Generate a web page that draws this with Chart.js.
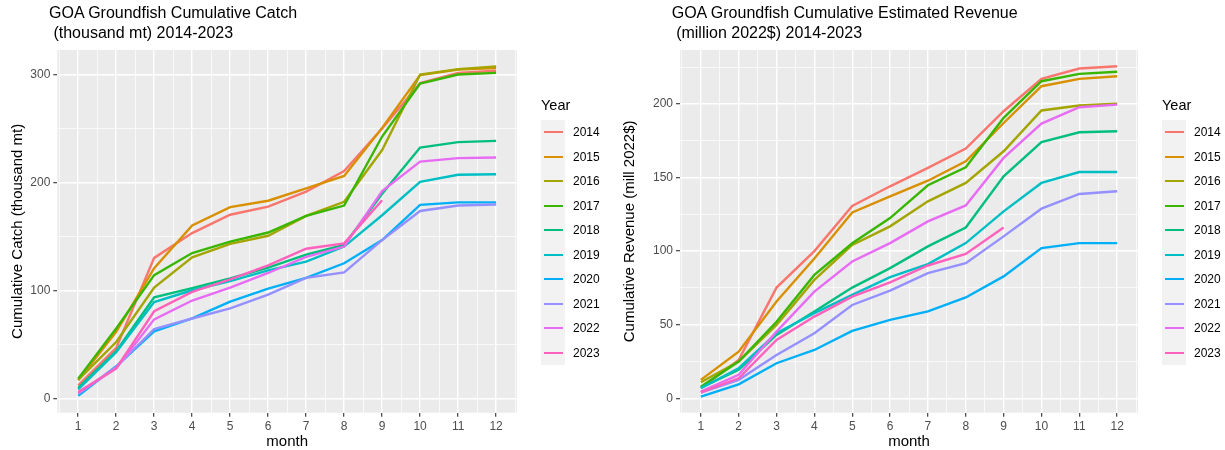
<!DOCTYPE html>
<html>
<head>
<meta charset="utf-8">
<title>GOA Groundfish Cumulative Catch and Revenue</title>
<script src="https://cdn.jsdelivr.net/npm/chart.js@4.4.1/dist/chart.umd.min.js"></script>
<style>
    body { margin: 0; background: #ffffff; font-family: "Liberation Sans", Arial, sans-serif; }
    #wrap { position: relative; width: 1225px; height: 450px; overflow: hidden; }
    #wrap canvas { position: absolute; top: 0; }
    .plot-title { position: absolute; top: 3px; font-size: 16px; line-height: 20px; white-space: pre; color: #000; }
    .legend-title { position: absolute; font-size: 14.5px; line-height: 16px; color: #000; }
    .key-bg { position: absolute; background: #f2f2f2; }
    .key-line { position: absolute; height: 2px; }
    .key-label { position: absolute; font-size: 12px; line-height: 14px; color: #000; }
</style>
</head>
<body>
<div id="wrap">
    <canvas id="catchChart" width="612" height="450"></canvas>
    <canvas id="revenueChart" width="613" height="450"></canvas>
</div>
<script>
// Data
const months = [1, 2, 3, 4, 5, 6, 7, 8, 9, 10, 11, 12];
const years = ['2014', '2015', '2016', '2017', '2018', '2019', '2020', '2021', '2022', '2023'];
const yearColors = ['#F8766D', '#D89000', '#A3A500', '#39B600', '#00BF7D',
                    '#00BFC4', '#00B0F6', '#9590FF', '#E76BF3', '#FF62BC'];

// Cumulative catch (thousand mt)
const catch2014 = [12.4, 47, 130.5, 153.5, 170.5, 178, 192, 211, 250.5, 292.5, 302, 304];
const catch2015 = [17, 62, 121, 160.5, 177.5, 183.5, 195, 206.5, 251, 300, 305, 306.5];
const catch2016 = [17.5, 52.5, 103, 131, 143.5, 151, 169.5, 182.5, 230.5, 300.5, 305.5, 308];
const catch2017 = [18.6, 65, 114.5, 135, 145.5, 154, 169.5, 179, 243, 292, 300.5, 302];
const catch2018 = [10, 44, 94, 102.5, 111.5, 121.5, 133.5, 142.5, 190, 232.8, 237.8, 239];
const catch2019 = [8.5, 43, 89.5, 100.5, 109, 119, 127, 141, 170, 201, 207.5, 208];
const catch2020 = [2.6, 30, 62.5, 74.5, 90, 102, 112, 125.5, 147, 179.6, 182, 182];
const catch2021 = [4.6, 29.5, 64.5, 74.3, 83.7, 96.5, 112, 117, 147, 174, 179, 180];
const catch2022 = [5.3, 28, 73.5, 91, 103, 116.5, 131.5, 141, 192.5, 219.8, 223, 223.5];
const catch2023 = [6.2, 28, 81, 99, 110.5, 123.5, 139, 144, 184];

// Cumulative estimated revenue (million 2022$)
const revenue2014 = [7, 26, 75.2, 100, 130.7, 144, 156.5, 169.6, 195, 217, 224, 225.6];
const revenue2015 = [12.5, 31.7, 65.7, 95, 126.2, 137.2, 147.8, 161, 187, 212, 217, 218.8];
const revenue2016 = [10.9, 25, 49.8, 80.4, 104.2, 116.8, 133.8, 146.3, 167.8, 195.5, 198.9, 200.2];
const revenue2017 = [7.9, 25, 52, 83.8, 105.3, 122.4, 144.7, 156.9, 190.5, 215.4, 220.4, 221.8];
const revenue2018 = [7.2, 19.3, 43, 58.9, 75.2, 88.4, 103.2, 116, 150.8, 174.1, 180.7, 181.4];
const revenue2019 = [6.8, 20.4, 44.2, 57.8, 70.2, 82.3, 91.2, 105.4, 127, 146.3, 153.7, 153.7];
const revenue2020 = [1.1, 9.5, 23.8, 32.8, 45.8, 53.3, 59, 68.5, 82.8, 102, 105.4, 105.4];
const revenue2021 = [3.9, 12.5, 29.4, 44.2, 63.4, 73.2, 85, 91.8, 110, 128.8, 138.8, 140.6];
const revenue2022 = [4.5, 15.9, 45.3, 72.5, 92.9, 105.4, 120.2, 131, 163.3, 186.6, 197.7, 199.5];
const revenue2023 = [4, 13.6, 39.6, 55.5, 69, 78.7, 90.2, 98, 116];

// Axis breaks (major) for each panel
const monthTicks = [1, 2, 3, 4, 5, 6, 7, 8, 9, 10, 11, 12];
const catchTicks = [0, 100, 200, 300];
const revenueTicks = [0, 50, 100, 150, 200];

const catchSeries = [catch2014, catch2015, catch2016, catch2017, catch2018,
                     catch2019, catch2020, catch2021, catch2022, catch2023];
const revenueSeries = [revenue2014, revenue2015, revenue2016, revenue2017, revenue2018,
                       revenue2019, revenue2020, revenue2021, revenue2022, revenue2023];

// Page layout (pixels in the 1225x450 window)
const plots = [
    {
        canvasId: 'catchChart',
        canvasLeft: 0,
        canvasWidth: 612,
        panel: { left: 57.3, right: 517, top: 50, bottom: 412.7 },
        yRange: [-13, 323.2],
        yTicks: catchTicks,
        series: catchSeries,
        title: ['GOA Groundfish Cumulative Catch', ' (thousand mt) 2014-2023'],
        yTitle: 'Cumulative Catch (thousand mt)'
    },
    {
        canvasId: 'revenueChart',
        canvasLeft: 612,
        canvasWidth: 613,
        panel: { left: 680, right: 1138, top: 50, bottom: 412.7 },
        yRange: [-9.8, 236.6],
        yTicks: revenueTicks,
        series: revenueSeries,
        title: ['GOA Groundfish Cumulative Estimated Revenue', ' (million 2022$) 2014-2023'],
        yTitle: 'Cumulative Revenue (mill 2022$)'
    }
];

const FONT = '"Liberation Sans", Arial, sans-serif';
const PANEL_BG = '#EBEBEB';

// Major breaks plus ggplot-style minor breaks halfway between them
function withMinor(major, lo, hi) {
    const step = major[1] - major[0];
    const all = [];
    for (let v = major[0] - step; v <= major[major.length - 1] + step; v += step / 2) {
        if (v > lo && v < hi) all.push(v);
    }
    return all;
}

// Grey panel behind the grid
const panelBackground = {
    id: 'panelBackground',
    beforeDraw(chart) {
        const { ctx, chartArea } = chart;
        ctx.save();
        ctx.fillStyle = PANEL_BG;
        ctx.fillRect(chartArea.left, chartArea.top,
                     chartArea.right - chartArea.left, chartArea.bottom - chartArea.top);
        ctx.restore();
    }
};

function axisOptions(major, range, extra) {
    const isMajor = v => major.includes(v);
    return Object.assign({
        type: 'linear',
        min: range[0],
        max: range[1],
        afterBuildTicks: axis => {
            axis.ticks = withMinor(major, range[0], range[1]).map(v => ({ value: v }));
        },
        border: { display: false },
        grid: {
            color: '#ffffff',
            lineWidth: ctx => (ctx.tick && isMajor(ctx.tick.value)) ? 1.4 : 0.7,
            tickColor: ctx => (ctx.tick && isMajor(ctx.tick.value)) ? '#333333' : 'rgba(0,0,0,0)',
            tickLength: 4,
            tickWidth: 1.1
        },
        ticks: {
            autoSkip: false,
            maxRotation: 0,
            minRotation: 0,
            color: '#4D4D4D',
            font: { family: FONT, size: 12 },
            callback: v => isMajor(v) ? String(v) : ''
        }
    }, extra);
}

function buildChart(plot) {
    const wrap = document.getElementById('wrap');
    const canvas = document.getElementById(plot.canvasId);
    canvas.style.left = plot.canvasLeft + 'px';

    const panelLeft = plot.panel.left - plot.canvasLeft;
    const panelRight = plot.panel.right - plot.canvasLeft;

    const datasets = plot.series.map((values, i) => ({
        label: years[i],
        data: values.map((v, j) => ({ x: months[j], y: v })),
        borderColor: yearColors[i],
        backgroundColor: yearColors[i],
        borderWidth: 2.4,
        pointRadius: 0,
        tension: 0,
        fill: false,
        order: years.length - 1 - i   // later years drawn on top, like ggplot
    }));

    new Chart(canvas, {
        type: 'line',
        data: { datasets },
        options: {
            responsive: false,
            animation: false,
            devicePixelRatio: 1,
            layout: {
                padding: { left: 0, top: plot.panel.top, right: plot.canvasWidth - panelRight, bottom: 0 }
            },
            plugins: {
                legend: { display: false },
                title: { display: false },
                tooltip: { enabled: false }
            },
            scales: {
                x: axisOptions(monthTicks, [0.45, 12.55], {
                    position: 'bottom',
                    afterFit: scale => { scale.height = 450 - plot.panel.bottom; },
                    title: {
                        display: true, text: 'month', color: '#000',
                        font: { family: FONT, size: 15 }, padding: { top: 0, bottom: -1 }
                    }
                }),
                y: axisOptions(plot.yTicks, plot.yRange, {
                    position: 'left',
                    afterFit: scale => { scale.width = panelLeft; },
                    title: {
                        display: true, text: plot.yTitle, color: '#000',
                        font: { family: FONT, size: 15 }, padding: { top: 9, bottom: 0 }
                    }
                })
            }
        },
        plugins: [panelBackground]
    });

    // Title
    const title = document.createElement('div');
    title.className = 'plot-title';
    title.style.left = (plot.panel.left - 8.3) + 'px';
    title.textContent = plot.title.join('\n');
    wrap.appendChild(title);

    // Legend, built from the same year/colour arrays
    const keyLeft = Math.round(plot.panel.right + 23.7);
    const firstRow = 132.3;
    const rowStep = 24.47;

    const legendTitle = document.createElement('div');
    legendTitle.className = 'legend-title';
    legendTitle.style.left = keyLeft + 'px';
    legendTitle.style.top = '97px';
    legendTitle.textContent = 'Year';
    wrap.appendChild(legendTitle);

    const bg = document.createElement('div');
    bg.className = 'key-bg';
    bg.style.left = keyLeft + 'px';
    bg.style.top = Math.round(firstRow - rowStep / 2) + 'px';
    bg.style.width = '24px';
    bg.style.height = Math.round(rowStep * years.length) + 'px';
    wrap.appendChild(bg);

    years.forEach((year, i) => {
        const cy = firstRow + i * rowStep;
        const line = document.createElement('div');
        line.className = 'key-line';
        line.style.left = (keyLeft + 3) + 'px';
        line.style.width = '19px';
        line.style.top = Math.round(cy - 1) + 'px';
        line.style.background = yearColors[i];
        wrap.appendChild(line);

        const label = document.createElement('div');
        label.className = 'key-label';
        label.style.left = (keyLeft + 32) + 'px';
        label.style.top = Math.round(cy - 7) + 'px';
        label.textContent = year;
        wrap.appendChild(label);
    });
}

plots.forEach(buildChart);
</script>
</body>
</html>
